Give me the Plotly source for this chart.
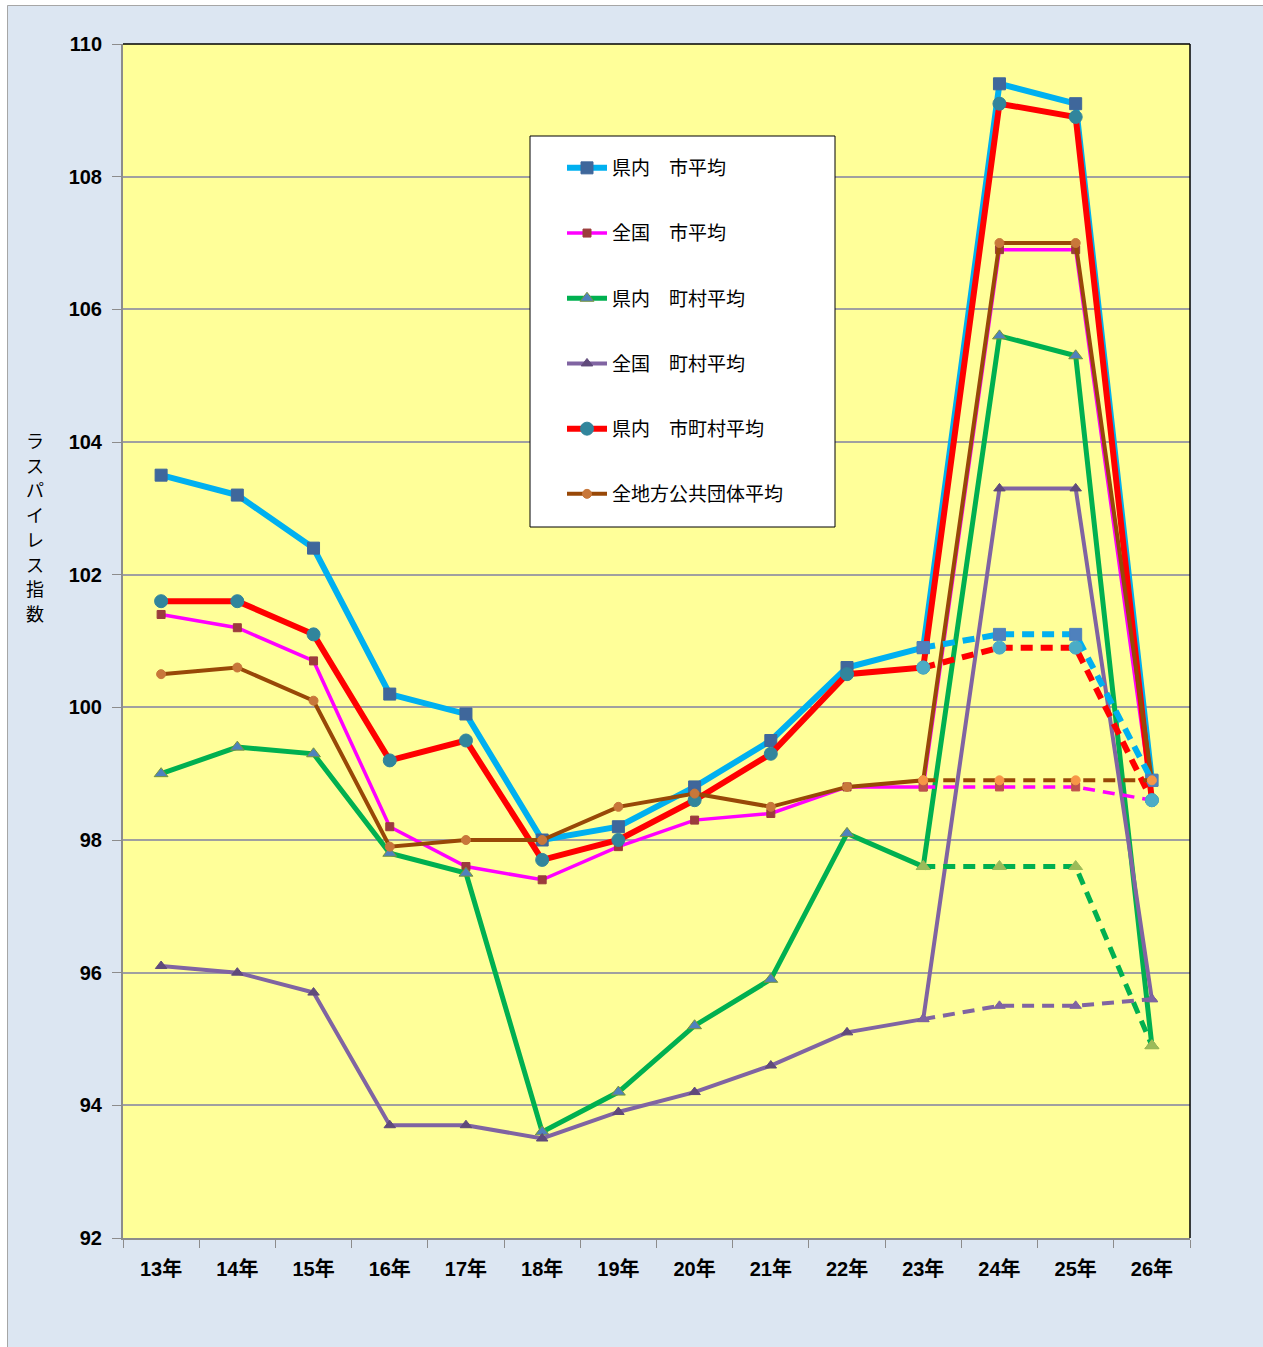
import plotly.graph_objects as go

years = ["13年", "14年", "15年", "16年", "17年", "18年", "19年", "20年", "21年", "22年", "23年", "24年", "25年", "26年"]
adj_years = ["23年", "24年", "25年", "26年"]

names = ["県内　市平均", "全国　市平均", "県内　町村平均", "全国　町村平均", "県内　市町村平均", "全地方公共団体平均"]

ken_shi = [103.5, 103.2, 102.4, 100.2, 99.9, 98.0, 98.2, 98.8, 99.5, 100.6, 100.9, 109.4, 109.1, 98.9]
zen_shi = [101.4, 101.2, 100.7, 98.2, 97.6, 97.4, 97.9, 98.3, 98.4, 98.8, 98.8, 106.9, 106.9, 98.6]
ken_chouson = [99.0, 99.4, 99.3, 97.8, 97.5, 93.6, 94.2, 95.2, 95.9, 98.1, 97.6, 105.6, 105.3, 94.9]
zen_chouson = [96.1, 96.0, 95.7, 93.7, 93.7, 93.5, 93.9, 94.2, 94.6, 95.1, 95.3, 103.3, 103.3, 95.6]
ken_shichouson = [101.6, 101.6, 101.1, 99.2, 99.5, 97.7, 98.0, 98.6, 99.3, 100.5, 100.6, 109.1, 108.9, 98.6]
zen_chihou = [100.5, 100.6, 100.1, 97.9, 98.0, 98.0, 98.5, 98.7, 98.5, 98.8, 98.9, 107.0, 107.0, 98.9]

ken_shi_adj = [100.9, 101.1, 101.1, 98.9]
zen_shi_adj = [98.8, 98.8, 98.8, 98.6]
ken_chouson_adj = [97.6, 97.6, 97.6, 94.9]
zen_chouson_adj = [95.3, 95.5, 95.5, 95.6]
ken_shichouson_adj = [100.6, 100.9, 100.9, 98.6]
zen_chihou_adj = [98.9, 98.9, 98.9, 98.9]

y_title = "ラスパイレス指数"

solid = [ken_shi, zen_shi, ken_chouson, zen_chouson, ken_shichouson, zen_chihou]
dashed = [ken_shi_adj, zen_shi_adj, ken_chouson_adj, zen_chouson_adj, ken_shichouson_adj, zen_chihou_adj]

styles = [
    dict(lc="#00B0F0", lw=6, sym="square", ms=12, mc="#3F679B", mlc="#3F679B", amc="#4F81BD"),
    dict(lc="#FF00FF", lw=3.5, sym="square", ms=8, mc="#9B3C3C", mlc="#9B3C3C", amc="#C0504D"),
    dict(lc="#00B050", lw=5, sym="triangle-up", ms=12, mc="#4F81BD", mlc="#77933C", amc="#9BBB59"),
    dict(lc="#8064A2", lw=4, sym="triangle-up", ms=10, mc="#604A7B", mlc="#604A7B", amc="#7F64A2"),
    dict(lc="#FF0000", lw=6, sym="circle", ms=13, mc="#31859C", mlc="#31859C", amc="#4BACC6"),
    dict(lc="#984807", lw=4, sym="circle", ms=9, mc="#C8773A", mlc="#C8773A", amc="#F79646"),
]

fig = go.Figure()
for i, (name, vals, st) in enumerate(zip(names, solid, styles)):
    fig.add_trace(go.Scatter(
        x=years, y=vals, name=name, mode="lines+markers",
        line=dict(color=st["lc"], width=st["lw"]),
        marker=dict(symbol=st["sym"], size=st["ms"], color=st["mc"],
                    line=dict(color=st["mlc"], width=1)),
        legendgroup=f"g{i}", showlegend=True,
    ))
for i, (name, vals, st) in enumerate(zip(names, dashed, styles)):
    fig.add_trace(go.Scatter(
        x=adj_years, y=vals, name=name, mode="lines+markers",
        line=dict(color=st["lc"], width=st["lw"], dash="12px,8px"),
        marker=dict(symbol=st["sym"], size=st["ms"], color=st["amc"],
                    line=dict(color=st["amc"], width=1)),
        legendgroup=f"g{i}", showlegend=False,
    ))

W, H = 1263, 1347
L, R, T, B = 123, 1190, 44, 1238
pw, ph = R - L, B - T


def px(x):
    return (x - L) / pw


def py(y):
    return (B - y) / ph


fig.update_layout(
    width=W, height=H,
    margin=dict(l=L, r=W - R, t=T, b=H - B, pad=0),
    paper_bgcolor="#DCE6F2",
    plot_bgcolor="#FFFF99",
    showlegend=True,
    legend=dict(
        x=px(562), y=py(149), xanchor="left", yanchor="top",
        bgcolor="rgba(0,0,0,0)", borderwidth=0,
        font=dict(family="Noto Sans CJK JP", size=19, color="#000000"),
        tracegroupgap=37.5, itemwidth=40,
        traceorder="grouped",
    ),
    xaxis=dict(
        type="category", range=[-0.5, 13.5],
        showgrid=False, showline=True, linecolor="#8C8C8C", linewidth=2,
        ticks="outside", tickson="boundaries", ticklen=8, tickcolor="#8C8C8C",
        tickfont=dict(family="Liberation Sans, Noto Sans CJK JP", size=20, color="#000000", weight="bold"),
        ticklabelstandoff=12,
        zeroline=False, fixedrange=True,
    ),
    yaxis=dict(
        range=[92, 110], dtick=2, tick0=92,
        showgrid=True, gridcolor="#A0A0A0", gridwidth=1.5,
        showline=True, linecolor="#8C8C8C", linewidth=2,
        ticks="outside", ticklen=9, tickcolor="#8C8C8C",
        tickfont=dict(family="Liberation Sans", size=20, color="#000000", weight="bold"),
        ticklabelstandoff=6,
        zeroline=False, fixedrange=True,
    ),
)

# legend box (opaque white, black border)
fig.add_shape(type="rect", xref="paper", yref="paper",
              x0=px(530), x1=px(835), y0=py(527), y1=py(136),
              fillcolor="#FFFFFF", line=dict(color="#000000", width=1), layer="above")

# y-axis title written vertically, one character per annotation
for k, ch in enumerate(y_title):
    fig.add_annotation(
        text=ch, x=px(35), y=py(440 + k * 24.7), xref="paper", yref="paper",
        xanchor="center", yanchor="middle", showarrow=False,
        font=dict(family="Noto Sans CJK JP", size=18, color="#000000"),
    )

# plot area border: top and right in black
fig.add_shape(type="line", xref="paper", yref="paper", x0=0, x1=1, y0=1, y1=1,
              line=dict(color="#000000", width=1.5), layer="above")
fig.add_shape(type="line", xref="paper", yref="paper", x0=1, x1=1, y0=0, y1=1,
              line=dict(color="#000000", width=1.5), layer="above")

# outer chart frame
fig.add_shape(type="rect", xref="paper", yref="paper",
              x0=px(0), x1=px(7), y0=py(H), y1=py(0),
              fillcolor="#FFFFFF", line=dict(width=0), layer="above")
fig.add_shape(type="rect", xref="paper", yref="paper",
              x0=px(0), x1=px(W), y0=py(5), y1=py(0),
              fillcolor="#FFFFFF", line=dict(width=0), layer="above")
fig.add_shape(type="rect", xref="paper", yref="paper",
              x0=px(7.5), x1=px(W + 5), y0=py(H + 5), y1=py(5.5),
              line=dict(color="#A6A6A6", width=1), layer="above")

fig.write_html("out.html", config={"displayModeBar": False},
               post_script="document.body.style.margin='0';document.body.style.overflow='hidden';")
